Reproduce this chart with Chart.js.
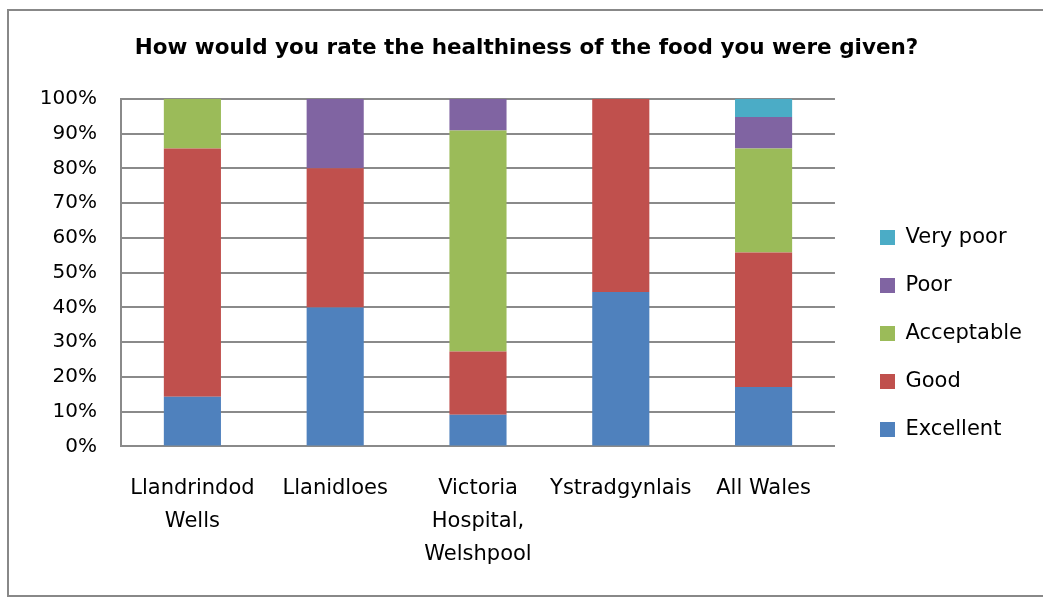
<!DOCTYPE html>
<html>
<head>
<meta charset="utf-8">
<title>Healthiness of food</title>
<script src="https://cdn.jsdelivr.net/npm/chart.js@4"></script>
<style>
    html, body { margin: 0; padding: 0; background: #fff; overflow: hidden; }
    #wrap { position: relative; width: 1043px; height: 597px; }
    #frame {
        position: absolute; left: 7px; top: 9px; width: 1100px; height: 584px;
        border: 2px solid #888; pointer-events: none;
    }
</style>
</head>
<body>
<div id="wrap">
    <canvas id="food-chart" width="1043" height="597"></canvas>
    <div id="frame"></div>
</div>
<script>
// Share of answers per site (percent)
const sites = [['Llandrindod', 'Wells'], 'Llanidloes', ['Victoria', 'Hospital,', 'Welshpool'], 'Ystradgynlais', 'All Wales'];
const excellent  = [14.3, 40, 9.1, 44.4, 17.1];
const good       = [71.4, 40, 18.2, 55.6, 38.7];
const acceptable = [14.3, 0, 63.6, 0, 29.9];
const poor       = [0, 20, 9.1, 0, 9.1];
const veryPoor   = [0, 0, 0, 0, 5.2];
const yTicks = [0, 10, 20, 30, 40, 50, 60, 70, 80, 90, 100];

const FONT = "'DejaVu Sans', sans-serif";
const GRID = '#8a8a8a';

function series(label, data, color) {
    return { label: label, data: data, backgroundColor: color, borderWidth: 0 };
}

const ctx = document.getElementById('food-chart');
new Chart(ctx, {
    type: 'bar',
    data: {
        labels: sites,
        datasets: [
            series('Excellent', excellent, '#4f81bd'),
            series('Good', good, '#c0504d'),
            series('Acceptable', acceptable, '#9bbb59'),
            series('Poor', poor, '#8064a2'),
            series('Very poor', veryPoor, '#4bacc6')
        ]
    },
    options: {
        responsive: false,
        animation: false,
        barPercentage: 0.4,
        categoryPercentage: 1,
        layout: { padding: { left: 21, right: 11, top: 0, bottom: 9 } },
        plugins: {
            title: {
                display: true,
                text: 'How would you rate the healthiness of the food you were given?',
                color: '#000',
                font: { family: FONT, size: 21.5, weight: 'bold', lineHeight: 1.2 },
                padding: { top: 36, bottom: 37 }
            },
            legend: {
                position: 'right',
                align: 'start',
                reverse: true,
                maxWidth: 240,
                // empty title only pushes the items down
                title: { display: true, text: '', font: { size: 10, lineHeight: 1 }, padding: { top: 190, bottom: 0 } },
                labels: {
                    color: '#000',
                    font: { family: FONT, size: 21 },
                    boxWidth: 15,
                    boxHeight: 15,
                    padding: 27
                }
            },
            tooltip: { enabled: false }
        },
        scales: {
            x: {
                stacked: true,
                grid: { display: false },
                border: { display: true, color: GRID, width: 2 },
                ticks: {
                    color: '#000',
                    maxRotation: 0,
                    autoSkip: false,
                    padding: 17,
                    font: { family: FONT, size: 21, lineHeight: 1.58 }
                }
            },
            y: {
                stacked: true,
                min: 0,
                max: 100,
                afterBuildTicks: function(axis) {
                    axis.ticks = yTicks.map(function(v) { return { value: v }; });
                },
                afterFit: function(scale) { scale.width = 100; },
                grid: { color: GRID, lineWidth: 2, drawTicks: false },
                border: { display: true, color: GRID, width: 2 },
                ticks: {
                    color: '#000',
                    padding: 24,
                    font: { family: FONT, size: 20 },
                    callback: function(v) { return v + '%'; }
                }
            },
            // keeps a gap between the plot and the legend
            gap: {
                axis: 'y',
                position: 'right',
                display: true,
                grid: { display: false },
                border: { display: false },
                ticks: { display: false },
                afterFit: function(scale) { scale.width = 18; }
            }
        }
    }
});
</script>
</body>
</html>
